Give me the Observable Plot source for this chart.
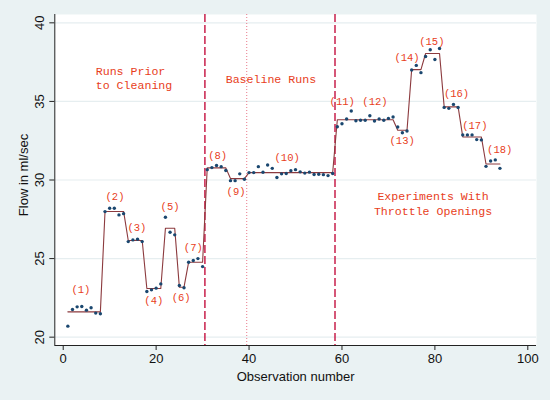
<!DOCTYPE html>
<html><head><meta charset="utf-8">
<script src="https://cdn.jsdelivr.net/npm/d3@7"></script>
<script src="https://cdn.jsdelivr.net/npm/@observablehq/plot@0.6"></script>
<style>body{margin:0;background:#eaf2f3}</style>
</head><body><div id="chart"></div>
<script>
// Observed flow (ml/sec), observations 1..94
const flow = [
  20.70,21.76,21.93,21.95,21.72,21.87,21.53,21.49,
  27.99,28.20,28.20,27.78,27.86,
  26.08,26.19,26.23,26.08,
  22.91,23.01,23.12,23.39,
  27.63,26.68,26.51,
  23.29,23.14,
  24.77,24.88,25.00,24.49,
  30.66,30.79,30.92,30.85,30.60,
  29.96,29.96,30.39,30.05,
  30.47,30.47,30.85,30.49,30.95,30.74,30.16,30.39,30.41,30.59,30.66,30.52,30.44,30.50,30.35,30.37,30.34,30.28,30.41,
  33.39,33.58,33.88,34.39,
  33.77,33.80,33.80,34.09,33.75,33.88,33.80,33.92,34.01,
  33.37,33.01,33.12,
  37.00,37.29,36.83,
  37.86,38.29,37.67,38.37,
  34.62,34.56,34.81,34.61,
  32.87,32.87,32.87,32.57,32.55,
  30.87,31.21,31.28,30.74
];
// run (group) of each observation
const group = [
  1,1,1,1,1,1,1,1, 2,2,2,2,2, 3,3,3,3, 4,4,4,4, 5,5,5, 6,6, 7,7,7,7,
  8,8,8,8,8, 9,9,9,9,
  10,10,10,10,10,10,10,10,10,10,10,10,10,10,10,10,10,10,10,
  11,11,11,11, 12,12,12,12,12,12,12,12,12, 13,13,13, 14,14,14,
  15,15,15,15, 16,16,16,16, 17,17,17,17,17, 18,18,18,18
];
// fitted level of each run
const groupMean = [21.61,28.00,26.15,23.10,26.93,23.18,24.77,30.77,30.09,30.47,
                   33.83,33.83,33.17,37.02,38.05,34.65,32.74,31.02];
// run labels
const labelText = ["(1)","(2)","(3)","(4)","(5)","(6)","(7)","(8)","(9)","(10)",
                   "(11)","(12)","(13)","(14)","(15)","(16)","(17)","(18)"];
const labelX = [3.8,11.15,15.85,19.5,23.0,25.4,28.0,33.25,37.2,48.2,
                60.05,67.1,72.95,74.0,79.35,84.65,88.6,93.95];
const labelY = [23.03,28.96,26.95,22.33,28.33,22.52,25.68,31.55,29.28,31.44,
                34.98,34.98,32.48,37.80,38.82,35.51,33.44,31.91];
// section notes (left-aligned block, then centred ones)
const noteLeftText = ["Runs Prior","to Cleaning"];
const noteLeftX = [7,7];
const noteLeftY = [36.91,36.05];
const noteText = ["Baseline Runs","Experiments With","Throttle Openings"];
const noteX = [44.7,79.6,79.6];
const noteY = [36.43,28.96,27.99];
// separators
const sectionBreaks = [30.5, 58.5];
const dottedBreaks = [39.5];
const xTicks = [0,20,40,60,80,100];
const yTicks = [20,25,30,35,40];

const pts = flow.map((v,i)=>({obs:i+1, flow:v, fit:groupMean[group[i]-1]}));
const labels = labelText.map((t,i)=>({t, x:labelX[i], y:labelY[i]}));
const notesL = noteLeftText.map((t,i)=>({t, x:noteLeftX[i], y:noteLeftY[i]}));
const notes = noteText.map((t,i)=>({t, x:noteX[i], y:noteY[i]}));

const xDomain = [-1.81, 101.87];
const yDomain = [19.47, 40.53];
const txt = "#e8401c";
const sans = "Liberation Sans, Arial, Helvetica, sans-serif";
const mono = "Liberation Mono, Courier New, monospace";

const chart = Plot.plot({
  width: 550, height: 400,
  marginLeft: 54.3, marginRight: 14, marginTop: 14, marginBottom: 55,
  style: {background: "#eaf2f3", fontFamily: sans},
  x: {domain: xDomain, axis: null},
  y: {domain: yDomain, axis: null},
  marks: [
    Plot.frame({fill: "white", stroke: null}),
    Plot.ruleY(yTicks, {stroke: "#e6eef0", strokeWidth: 1.2}),
    Plot.ruleX(dottedBreaks, {stroke: "#e8798a", strokeWidth: 1, strokeDasharray: "1,2"}),
    Plot.ruleX(sectionBreaks, {stroke: "#c4103f", strokeWidth: 1.4, strokeDasharray: "8,3"}),
    Plot.line(pts, {x: "obs", y: "fit", stroke: "#8c3a3e", strokeWidth: 1.1}),
    Plot.dot(pts, {x: "obs", y: "flow", r: 1.7, fill: "#1a476f", stroke: null}),
    Plot.text(labels, {x: "x", y: "y", text: "t", fill: txt, fontFamily: mono, fontSize: 10.5, lineAnchor: "middle"}),
    Plot.text(notesL, {x: "x", y: "y", text: "t", textAnchor: "start", fill: txt, fontFamily: mono, fontSize: 11.6, lineAnchor: "middle"}),
    Plot.text(notes, {x: "x", y: "y", text: "t", textAnchor: "middle", fill: txt, fontFamily: mono, fontSize: 11.6, lineAnchor: "middle"}),
    // axis lines
    Plot.ruleX([xDomain[0]], {stroke: "#222", strokeWidth: 1}),
    Plot.ruleY([yDomain[0]], {stroke: "#222", strokeWidth: 1}),
    Plot.axisX({ticks: xTicks, tickSize: 5, tickPadding: 3, fontSize: 13, label: null, stroke: "#222", fill: "#111"}),
    Plot.axisY({ticks: yTicks, tickSize: 5, label: null, text: null, stroke: "#222"}),
    Plot.text(yTicks, {frameAnchor: "left", y: d => d, text: d => String(d), rotate: -90, dx: -15, textAnchor: "middle", lineAnchor: "middle", fontSize: 13, fill: "#111"}),
    Plot.text(["Flow in ml/sec"], {frameAnchor: "left", rotate: -90, dx: -31, dy: -5, textAnchor: "middle", lineAnchor: "middle", fontSize: 13, fill: "#111"}),
    Plot.text(["Observation number"], {frameAnchor: "bottom", dy: 31, textAnchor: "middle", lineAnchor: "middle", fontSize: 13, fill: "#111"})
  ]
});
document.getElementById("chart").appendChild(chart);
</script>
</body></html>
